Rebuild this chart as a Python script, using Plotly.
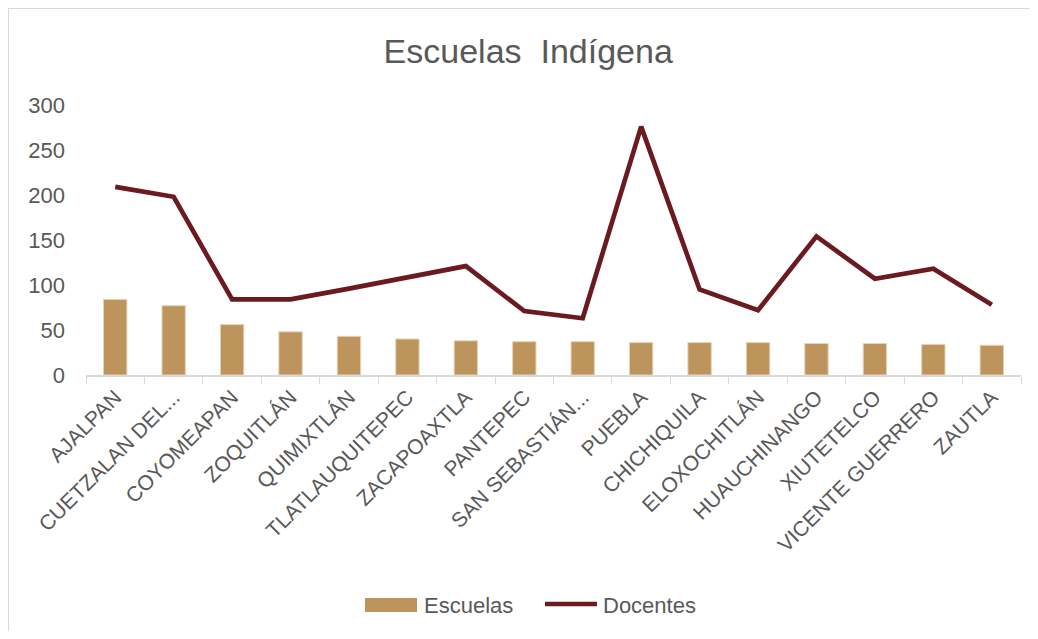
import plotly.graph_objects as go

municipios = ['AJALPAN', 'CUETZALAN DEL...', 'COYOMEAPAN', 'ZOQUITLÁN', 'QUIMIXTLÁN',
              'TLATLAUQUITEPEC', 'ZACAPOAXTLA', 'PANTEPEC', 'SAN SEBASTIÁN...', 'PUEBLA',
              'CHICHIQUILA', 'ELOXOCHITLÁN', 'HUAUCHINANGO', 'XIUTETELCO',
              'VICENTE GUERRERO', 'ZAUTLA']
escuelas = [84, 77, 56, 48, 43, 40, 38, 37, 37, 36, 36, 36, 35, 35, 34, 33]
docentes = [209, 198, 84, 84, 96, 108, 121, 71, 63, 276, 95, 72, 154, 107, 118, 78]
y_ticks = [0, 50, 100, 150, 200, 250, 300]

gris = '#595959'
oro = '#BD955C'
vino = '#6B1A1F'
fuente = 'Liberation Sans, Arial, sans-serif'

# page has an 8px body margin, so the figure is a bit smaller than the window
W, H = 1022, 623
L, R, T, B = 78, 9, 97, 256
pw, ph = W - L - R, H - T - B


def px(x):
    return (x - L) / pw


def py(y):
    return (H - B - y) / ph


fig = go.Figure()
fig.add_trace(go.Bar(
    x=municipios, y=escuelas, name='Escuelas',
    marker=dict(color=oro, line=dict(color='#E6D3B5', width=1)),
    width=0.4, showlegend=False,
))
fig.add_trace(go.Scatter(
    x=municipios, y=docentes, name='Docentes', mode='lines',
    line=dict(color=vino, width=4.7), showlegend=False,
))

# legend drawn by hand (Excel-style wide swatch)
shapes = [
    dict(type='rect', xref='paper', yref='paper', x0=px(357), x1=px(409), y0=py(590), y1=py(604),
         fillcolor=oro, line=dict(width=0)),
    dict(type='line', xref='paper', yref='paper', x0=px(537), x1=px(589), y0=py(596), y1=py(596),
         line=dict(color=vino, width=4.7)),
    # chart frame edges
    dict(type='line', xref='paper', yref='paper', x0=px(0), x1=px(0), y0=py(0), y1=py(H),
         line=dict(color='#D9D9D9', width=2)),
    dict(type='line', xref='paper', yref='paper', x0=px(0), x1=px(W), y0=py(0), y1=py(0),
         line=dict(color='#D9D9D9', width=2)),
]
annotations = [
    dict(text='Escuelas', xref='paper', yref='paper', x=px(414), y=py(597), xanchor='left',
         yanchor='middle', showarrow=False, font=dict(size=22, color=gris, family=fuente)),
    dict(text='Docentes', xref='paper', yref='paper', x=px(593), y=py(597), xanchor='left',
         yanchor='middle', showarrow=False, font=dict(size=22, color=gris, family=fuente)),
]

fig.update_layout(
    width=W, height=H,
    paper_bgcolor='white', plot_bgcolor='white',
    font=dict(family=fuente, color=gris, size=21),
    title=dict(text='Escuelas  Indígena', x=0.509, xanchor='center', y=0.931, yanchor='middle',
               font=dict(size=34, color=gris, family=fuente)),
    margin=dict(l=L, r=R, t=T, b=B, autoexpand=False),
    shapes=shapes, annotations=annotations,
    bargap=0.6,
)
fig.update_xaxes(
    type='category', tickangle=-45, showgrid=False, automargin=False,
    showline=True, linecolor='#D9D9D9', linewidth=1.5,
    ticks='outside', tickson='boundaries', tickcolor='#D9D9D9', ticklen=7,
    tickfont=dict(size=21, color=gris),
)
fig.update_yaxes(
    range=[0, 300], tickvals=y_ticks, showgrid=False, zeroline=False, automargin=False,
    showline=False, ticklabelstandoff=20, tickfont=dict(size=22, color=gris),
)

fig.write_html('out.html')
